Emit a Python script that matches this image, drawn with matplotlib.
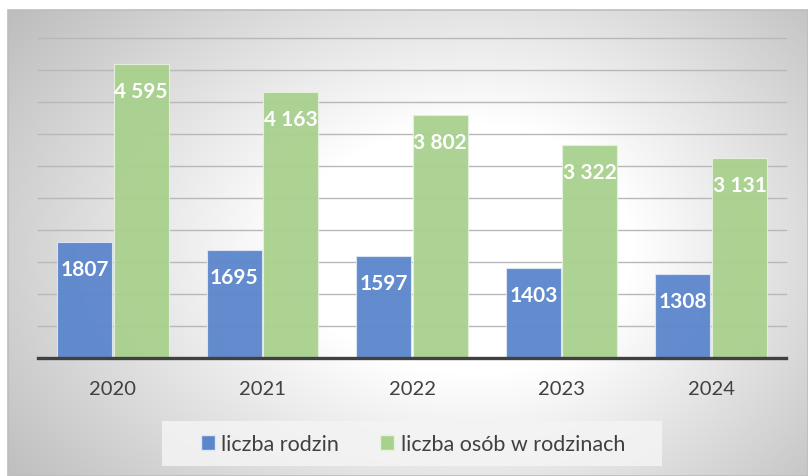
import matplotlib
matplotlib.use("Agg")
import matplotlib.pyplot as plt
import numpy as np
from matplotlib.patches import Patch, Rectangle

years = ["2020", "2021", "2022", "2023", "2024"]
families = [1807, 1695, 1597, 1403, 1308]
persons = [4595, 4163, 3802, 3322, 3131]
family_labels = ["1807", "1695", "1597", "1403", "1308"]
person_labels = ["4 595", "4 163", "3 802", "3 322", "3 131"]
legend_labels = ["liczba rodzin", "liczba osób w rodzinach"]

BLUE = "#5b86cc"
GREEN = "#a9d18e"
TEXT = "#404040"

plt.rcParams["font.family"] = ["Lato", "DejaVu Sans"]

W, H = 808, 477
fig = plt.figure(figsize=(W / 100, H / 100), dpi=100)
fig.patch.set_facecolor("white")

# gradient chart area background (grey edges, white centre)
bg = fig.add_axes([8 / W, 0, 1 - 8 / W, 1 - 11 / H], zorder=0)
gx, gy = np.meshgrid(np.arange(8, W), np.arange(11, H))
cx, cy = 480.0, 250.0
ax_scale = np.where(gx < cx, 500.0, 400.0)
d = np.sqrt(((gx - cx) / ax_scale) ** 2 + ((gy - cy) / 330.0) ** 2)
val = 255 - 82 * np.clip(d - 0.38, 0, None)
val = np.clip(val, 0, 255) / 255.0
bg.imshow(np.dstack([val, val, val]), aspect="auto", extent=(0, 1, 0, 1), origin="upper")
bg.set_xlim(0, 1)
bg.set_ylim(0, 1)
bg.axis("off")
bg.add_patch(Rectangle((0, 0), 1, 1, fill=False, ec="#bdbdbd", lw=1.2, transform=bg.transAxes, clip_on=False))

ax = fig.add_axes([38 / W, (H - 359) / H, 748 / W, 320 / H], zorder=1)
ax.patch.set_alpha(0)

x = np.arange(len(years))
w = 0.368
off = 0.189
b1 = ax.bar(x - off, families, w, color=BLUE, edgecolor="#dde6f4", lw=0.8, alpha=0.95, zorder=3)
b2 = ax.bar(x + off, persons, w, color=GREEN, edgecolor="#e6f1de", lw=0.8, alpha=0.95, zorder=3)

for rect, lab in zip(b1, family_labels):
    ax.annotate(lab, (rect.get_x() + rect.get_width() / 2, rect.get_height()),
                xytext=(0, -19.5), textcoords="offset points", ha="center", va="center",
                color="white", fontsize=15, fontweight="bold", zorder=4)
for rect, lab in zip(b2, person_labels):
    ax.annotate(lab, (rect.get_x() + rect.get_width() / 2, rect.get_height()),
                xytext=(0, -19.5), textcoords="offset points", ha="center", va="center",
                color="white", fontsize=15, fontweight="bold", zorder=4)

ax.set_xlim(-0.5, len(years) - 0.5)
ax.set_ylim(0, 5000)
for yv in range(500, 5001, 500):
    ax.axhline(yv, color="#b8b8b8", lw=1.0, zorder=1, clip_on=False)
ax.axhline(0, color=TEXT, lw=2.4, zorder=5, clip_on=False)

ax.set_yticks([])
ax.set_xticks(x)
ax.set_xticklabels(years, fontsize=14.5, color=TEXT)
ax.tick_params(axis="x", length=0, pad=16)
for s in ax.spines.values():
    s.set_visible(False)

# legend box
fig.patches.append(Rectangle((162 / W, (H - 467) / H), 500 / W, 45 / H, transform=fig.transFigure,
                             fc="#f4f4f4", ec="none", alpha=0.85, zorder=1))
handles = [Patch(facecolor=BLUE, edgecolor="#dde6f4"), Patch(facecolor=GREEN, edgecolor="#e6f1de")]
fig.legend(handles, legend_labels, loc="center", bbox_to_anchor=(413 / W, (H - 445) / H),
           ncol=2, frameon=False, fontsize=15.5, labelcolor=TEXT,
           handlelength=0.65, handleheight=0.65, handletextpad=0.3, columnspacing=1.9)

fig.savefig("out.png", dpi=100)
